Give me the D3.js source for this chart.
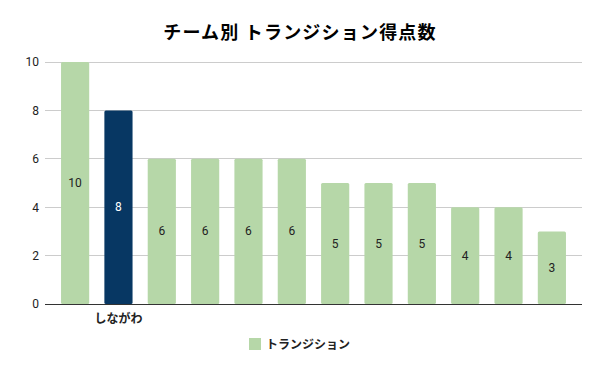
<!DOCTYPE html>
<html>
<head>
<meta charset="utf-8">
<script src="https://cdn.jsdelivr.net/npm/d3@7"></script>
<style>
  body { margin: 0; background: #fff; }
  svg { display: block; }
</style>
</head>
<body>
<svg width="600" height="371"></svg>
<script>
// データ
var teams = ["", "しながわ", "", "", "", "", "", "", "", "", "", ""];
var scores = [10, 8, 6, 6, 6, 6, 5, 5, 5, 4, 4, 3];
var highlight = [false, true, false, false, false, false, false, false, false, false, false, false];
var yTicks = [0, 2, 4, 6, 8, 10];
var seriesName = "トランジション";
var title = "チーム別 トランジション得点数";

var jp = "'Noto Sans CJK JP', 'Noto Sans', sans-serif";
var num = "Roboto, Arial, sans-serif";

var svg = d3.select("svg");

var x = d3.scaleBand().domain(d3.range(scores.length)).range([45, 582]).paddingInner(0.35).paddingOuter(0.37);
var y = d3.scaleLinear().domain([0, 10]).range([304, 62]);

// タイトル
svg.append("text").attr("x", 300).attr("y", 39).attr("text-anchor", "middle")
  .attr("font-family", jp).attr("font-weight", "bold").attr("font-size", 18)
  .attr("letter-spacing", 1.2).attr("fill", "#000")
  .text(title);

// グリッド
svg.append("g").selectAll("line").data(yTicks.filter(d => d > 0)).join("line")
  .attr("x1", 45).attr("x2", 582).attr("y1", d => y(d)).attr("y2", d => y(d))
  .attr("stroke", "#cccccc").attr("stroke-width", 1).attr("shape-rendering", "crispEdges");

// Y軸
var yAxis = svg.append("g").attr("transform", "translate(45,0)")
  .call(d3.axisLeft(y).tickValues(yTicks).tickSize(0).tickPadding(6));
yAxis.select(".domain").remove();
yAxis.selectAll("text").attr("font-family", num).attr("font-size", 12).attr("fill", "#222");

// 棒
svg.append("g").selectAll("rect").data(scores).join("rect")
  .attr("x", (d, i) => x(i)).attr("width", x.bandwidth())
  .attr("y", d => y(d)).attr("height", d => y(0) - y(d))
  .attr("rx", 1.5)
  .attr("fill", (d, i) => highlight[i] ? "#073763" : "#b6d7a8");

// 値ラベル
svg.append("g").selectAll("text").data(scores).join("text")
  .attr("x", (d, i) => x(i) + x.bandwidth() / 2)
  .attr("y", d => (y(d) + y(0)) / 2 + 4)
  .attr("text-anchor", "middle").attr("font-family", num).attr("font-size", 12)
  .attr("fill", (d, i) => highlight[i] ? "#fff" : "#222")
  .text(d => d);

// X軸
var xAxis = svg.append("g").attr("transform", "translate(0,304)")
  .call(d3.axisBottom(x).tickFormat(i => teams[i]).tickSize(0).tickPadding(10));
xAxis.select(".domain").attr("d", "M45,0.5H582").attr("stroke", "#333").attr("stroke-width", 1);
xAxis.selectAll("text").attr("font-family", jp).attr("font-weight", "bold").attr("font-size", 12).attr("fill", "#222");

// 凡例
svg.append("rect").attr("x", 249).attr("y", 338).attr("width", 12).attr("height", 12).attr("fill", "#b6d7a8");
svg.append("text").attr("x", 266).attr("y", 348.5)
  .attr("font-family", jp).attr("font-weight", "bold").attr("font-size", 12).attr("fill", "#222")
  .text(seriesName);
</script>
</body>
</html>
